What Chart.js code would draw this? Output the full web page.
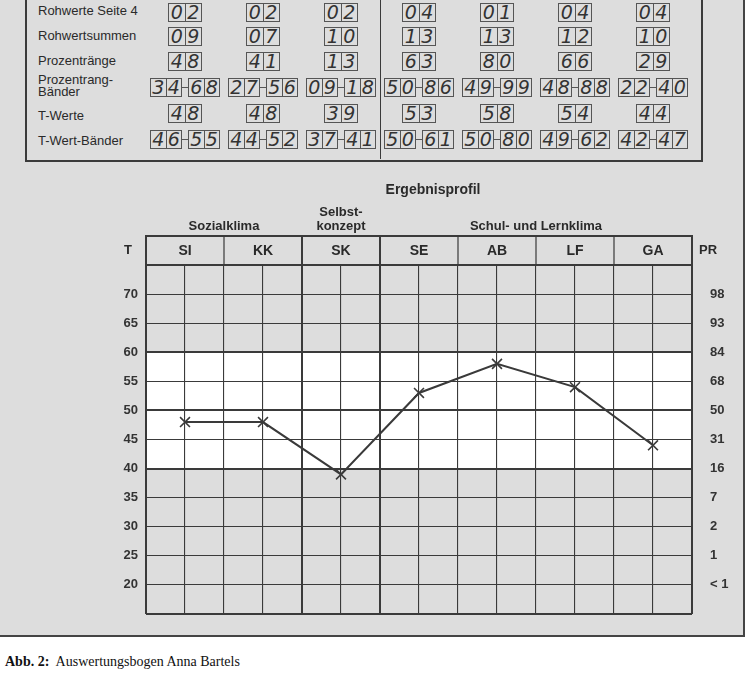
<!DOCTYPE html>
<html>
<head>
<meta charset="utf-8">
<script src="https://cdn.jsdelivr.net/npm/chart.js@4.4.0/dist/chart.umd.min.js"></script>
<style>
body{margin:0;width:753px;height:678px;background:#fff;position:relative;overflow:hidden;font-family:"Liberation Sans",Arial,sans-serif;}
#form{position:absolute;left:0;top:0;width:743px;height:635px;background:#dddddd;border-right:2px solid #444;border-bottom:2px solid #444;}
#tableBox{position:absolute;left:25px;top:-4px;width:674px;height:162px;border:2px solid #3a3a3a;}
#divider{position:absolute;left:380px;top:0;width:0;height:159px;border-left:1px solid #3a3a3a;}
.rowLabel{position:absolute;left:38px;font-size:13px;line-height:13px;color:#2a2a2a;}
.box{position:absolute;height:19px;box-sizing:border-box;border:1px solid #555;display:flex;}
.box span{flex:1;text-align:center;font:italic 19px "DejaVu Sans",sans-serif;line-height:17px;color:#333;}
.box span:first-child{border-right:1px solid #555;}
.dash{position:absolute;height:0;border-top:1px solid #555;}
#profil{position:absolute;left:0;top:170px;}
#caption{position:absolute;left:5px;top:654px;font-family:"Liberation Serif","Times New Roman",serif;font-size:14px;color:#111;}
</style>
</head>
<body>
<div id="form"></div>
<div id="tableBox"></div>
<div id="divider"></div>
<div class="rowLabel" style="top:4px">Rohwerte Seite 4</div>
<div class="rowLabel" style="top:29px">Rohwertsummen</div>
<div class="rowLabel" style="top:54px">Prozentränge</div>
<div class="rowLabel" style="top:74px;line-height:12px">Prozentrang-<br>Bänder</div>
<div class="rowLabel" style="top:109px">T-Werte</div>
<div class="rowLabel" style="top:134px">T-Wert-Bänder</div>
<canvas id="profil" width="753" height="466"></canvas>
<div id="caption"><b>Abb. 2:</b>&nbsp; Auswertungsbogen Anna Bartels</div>
<script>
// scales / categories
var categories = ["SI", "KK", "SK", "SE", "AB", "LF", "GA"];
var groups = [
    {label: ["Sozialklima"], from: 0, to: 1},
    {label: ["Selbst-", "konzept"], from: 2, to: 2},
    {label: ["Schul- und Lernklima"], from: 3, to: 6}
];
// table values
var rawPage4 = ["02", "02", "02", "04", "01", "04", "04"];
var rawSums = ["09", "07", "10", "13", "13", "12", "10"];
var percentRanks = ["48", "41", "13", "63", "80", "66", "29"];
var prBandLow = ["34", "27", "09", "50", "49", "48", "22"];
var prBandHigh = ["68", "56", "18", "86", "99", "88", "40"];
var tValues = [48, 48, 39, 53, 58, 54, 44];
var tBandLow = ["46", "44", "37", "50", "50", "49", "42"];
var tBandHigh = ["55", "52", "41", "61", "80", "62", "47"];
// axis ticks
var tTicks = [70, 65, 60, 55, 50, 45, 40, 35, 30, 25, 20];
var prTicks = ["98", "93", "84", "68", "50", "31", "16", "7", "2", "1", "< 1"];
var bandFrom = 40, bandTo = 60;

var lineColor = "#3a3a3a";
var labelFont = {family: "'Liberation Sans', Arial, sans-serif", size: 13, weight: "bold"};

var formPlugin = {
    id: "formPlugin",
    beforeDraw(chart){
        let ctx = chart.ctx;
        let ca = chart.chartArea;
        let y = chart.scales.y;
        ctx.save();
        ctx.fillStyle = "#ffffff";
        ctx.fillRect(ca.left, y.getPixelForValue(bandTo), ca.right - ca.left, y.getPixelForValue(bandFrom) - y.getPixelForValue(bandTo));
        ctx.restore();
    },
    afterDraw(chart){
        let ctx = chart.ctx;
        let ca = chart.chartArea;
        let x = chart.scales.x;
        let half = (x.getPixelForValue(1) - x.getPixelForValue(0)) / 2;
        ctx.save();
        ctx.strokeStyle = lineColor;
        // header row
        ctx.lineWidth = 2;
        ctx.beginPath();
        ctx.moveTo(ca.left - 1, x.top);
        ctx.lineTo(ca.right + 1, x.top);
        ctx.stroke();
        for(let i = 0; i <= categories.length; i++){
            let px = i < categories.length ? x.getPixelForValue(i) - half : x.getPixelForValue(i - 1) + half;
            ctx.lineWidth = (i == 0 || i == 2 || i == 3 || i == categories.length) ? 2 : 1.2;
            ctx.beginPath();
            ctx.moveTo(px, x.top);
            ctx.lineTo(px, ca.top);
            ctx.stroke();
        }
        // labels around the grid
        ctx.fillStyle = "#2a2a2a";
        ctx.font = "bold 13px 'Liberation Sans', Arial, sans-serif";
        ctx.textAlign = "center";
        ctx.textBaseline = "middle";
        let mid = (x.top + x.bottom) / 2;
        ctx.fillText("T", ca.left - 18, mid);
        ctx.fillText("PR", ca.right + 16, mid);
        groups.forEach(g => {
            let cx = (x.getPixelForValue(g.from) + x.getPixelForValue(g.to)) / 2;
            let n = g.label.length;
            g.label.forEach((t, k) => {
                ctx.fillText(t, cx, x.top - 10 - (n - 1 - k) * 14);
            });
        });
        ctx.font = "bold 14px 'Liberation Sans', Arial, sans-serif";
        ctx.fillText("Ergebnisprofil", (ca.left + ca.right) / 2 + 14, 20);
        ctx.restore();
    }
};

var chart = new Chart(document.getElementById("profil"), {
    type: "line",
    data: {
        labels: categories,
        datasets: [{
            data: tValues,
            xAxisID: "x",
            yAxisID: "y",
            borderColor: lineColor,
            borderWidth: 2,
            pointStyle: "crossRot",
            pointRadius: 7,
            pointBorderWidth: 1.6,
            pointBorderColor: lineColor,
            fill: false,
            tension: 0
        }]
    },
    options: {
        responsive: false,
        animation: false,
        layout: {padding: {top: 66, bottom: 22, left: 0, right: 0}},
        plugins: {
            legend: {display: false},
            tooltip: {enabled: false}
        },
        scales: {
            x: {
                type: "category",
                position: "top",
                offset: true,
                grid: {display: false},
                border: {display: false},
                ticks: {color: "#2a2a2a", font: {family: labelFont.family, size: 14, weight: "bold"}, padding: -3, maxRotation: 0},
                afterFit: (s) => { s.height = 29; }
            },
            xg: {
                type: "linear",
                position: "bottom",
                min: 0,
                max: categories.length * 2,
                ticks: {display: false, stepSize: 1},
                grid: {
                    color: lineColor,
                    drawTicks: false,
                    lineWidth: (c) => [0, 4, 6, categories.length * 2].includes(c.tick.value) ? 2 : 1.1
                },
                border: {display: false},
                afterFit: (s) => { s.height = 0; }
            },
            y: {
                position: "left",
                min: 15,
                max: 75,
                ticks: {
                    stepSize: 5,
                    color: "#333",
                    font: labelFont,
                    padding: 8,
                    callback: (v) => tTicks.includes(v) ? String(v) : ""
                },
                grid: {
                    color: lineColor,
                    drawTicks: false,
                    lineWidth: (c) => [15, 40, 50, 60, 75].includes(c.tick.value) ? 2 : 1.1
                },
                border: {display: false},
                afterFit: (s) => { s.width = 146; }
            },
            y2: {
                position: "right",
                min: 15,
                max: 75,
                ticks: {
                    stepSize: 5,
                    color: "#333",
                    font: labelFont,
                    padding: 10,
                    crossAlign: "near",
                    callback: (v) => {
                        let i = tTicks.indexOf(v);
                        return i < 0 ? "" : prTicks[i];
                    }
                },
                grid: {display: false},
                border: {display: false},
                afterFit: (s) => { s.width = 61; }
            }
        }
    },
    plugins: [formPlugin]
});

// upper table, placed on the category centres of the chart
var rowTops = [3, 27, 52, 78, 104, 130];

function addBox(left, top, width, text){
    let div = document.createElement("div");
    div.className = "box";
    div.style.left = left + "px";
    div.style.top = top + "px";
    div.style.width = width + "px";
    for(let k = 0; k < 2; k++){
        let span = document.createElement("span");
        span.textContent = text.charAt(k);
        div.appendChild(span);
    }
    document.body.appendChild(div);
}

function addBand(cx, top, low, high){
    addBox(cx - 35, top, 32, low);
    addBox(cx + 3, top, 32, high);
    let dash = document.createElement("div");
    dash.className = "dash";
    dash.style.left = (cx - 3) + "px";
    dash.style.top = (top + 9) + "px";
    dash.style.width = "6px";
    document.body.appendChild(dash);
}

var xScale = chart.scales.x;
for(let i = 0; i < categories.length; i++){
    let cx = Math.round(xScale.getPixelForValue(i));
    addBox(cx - 17, rowTops[0], 34, rawPage4[i]);
    addBox(cx - 17, rowTops[1], 34, rawSums[i]);
    addBox(cx - 17, rowTops[2], 34, percentRanks[i]);
    addBand(cx, rowTops[3], prBandLow[i], prBandHigh[i]);
    addBox(cx - 17, rowTops[4], 34, String(tValues[i]));
    addBand(cx, rowTops[5], tBandLow[i], tBandHigh[i]);
}
</script>
</body>
</html>
